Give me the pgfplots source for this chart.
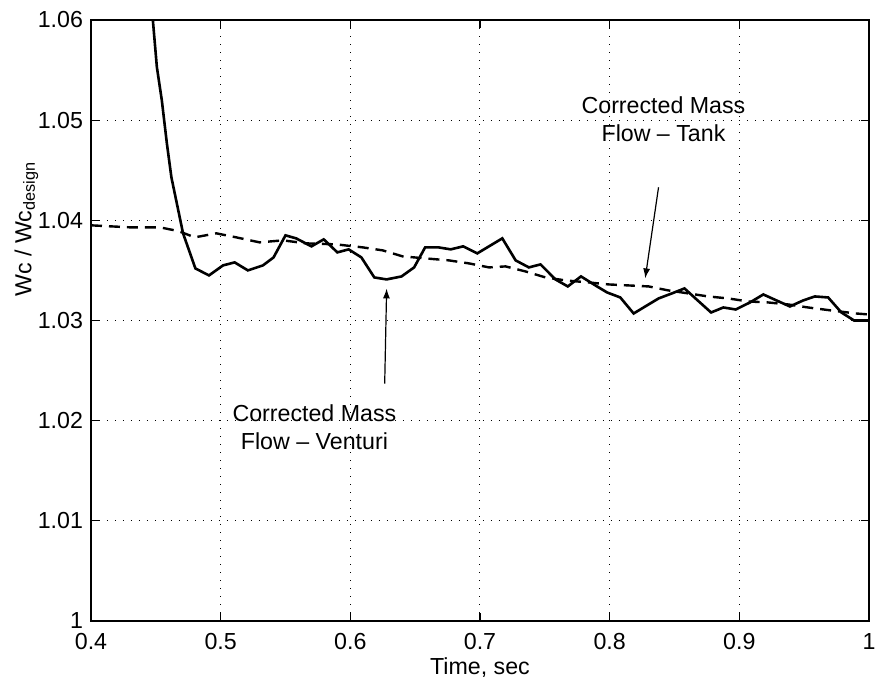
\documentclass[border=0pt]{standalone}
\usepackage{fontspec}
\setmainfont{Liberation Sans}
\usepackage{pgfplots}
\pgfplotsset{compat=1.18}
\usetikzlibrary{arrows.meta}

\pgfplotstableread{
t w
0.4477 1.0600
0.4508 1.0553
0.4546 1.0520
0.4585 1.0477
0.4620 1.0443
0.4710 1.0387
0.4805 1.0352
0.4910 1.0345
0.5018 1.0355
0.5108 1.0358
0.5210 1.0350
0.5326 1.0355
0.5408 1.0363
0.5500 1.0385
0.5582 1.0382
0.5700 1.0374
0.5795 1.0381
0.5900 1.0368
0.5987 1.0371
0.6085 1.0363
0.6185 1.0343
0.6279 1.0341
0.6395 1.0344
0.6492 1.0353
0.6577 1.0373
0.6680 1.0373
0.6774 1.0371
0.6870 1.0374
0.6979 1.0367
0.7172 1.0382
0.7275 1.0360
0.7377 1.0353
0.7467 1.0356
0.7582 1.0341
0.7677 1.0334
0.7779 1.0344
0.7890 1.0335
0.7980 1.0328
0.8082 1.0323
0.8185 1.0307
0.8287 1.0315
0.8377 1.0322
0.8479 1.0327
0.8577 1.0332
0.8679 1.0320
0.8782 1.0308
0.8877 1.0313
0.8972 1.0311
0.9082 1.0318
0.9185 1.0326
0.9287 1.0320
0.9390 1.0314
0.9492 1.0320
0.9582 1.0324
0.9685 1.0323
0.9787 1.0308
0.9885 1.0300
1.0000 1.0300
}\venturi

\pgfplotstableread{
t w
0.4000 1.0395
0.4150 1.0394
0.4300 1.0393
0.4531 1.0393
0.4646 1.0390
0.4700 1.0388
0.4800 1.0383
0.4967 1.0387
0.5120 1.0383
0.5300 1.0378
0.5480 1.0380
0.5660 1.0377
0.5890 1.0376
0.6095 1.0373
0.6250 1.0370
0.6403 1.0364
0.6580 1.0362
0.6760 1.0360
0.6915 1.0357
0.7070 1.0353
0.7197 1.0354
0.7350 1.0349
0.7505 1.0343
0.7660 1.0340
0.7838 1.0338
0.7992 1.0336
0.8146 1.0335
0.8300 1.0334
0.8454 1.0330
0.8608 1.0327
0.8760 1.0324
0.8915 1.0322
0.9070 1.0319
0.9223 1.0318
0.9377 1.0316
0.9530 1.0313
0.9710 1.0310
0.9900 1.0307
1.0000 1.0306
}\tank

\begin{document}
\begin{tikzpicture}
\begin{axis}[
  scale only axis,
  width=389pt, height=300.5pt,
  xmin=0.4, xmax=1, ymin=1, ymax=1.06,
  xtick={0.4,0.5,0.6,0.7,0.8,0.9,1},
  xticklabels={0.4,0.5,0.6,0.7,0.8,0.9,1},
  ytick={1,1.01,1.02,1.03,1.04,1.05,1.06},
  yticklabels={1,1.01,1.02,1.03,1.04,1.05,1.06},
  tick align=inside,
  major tick length=4pt,
  tick style={black, line width=0.6pt},
  axis line style={line width=0.9pt},
  grid=major,
  major grid style={black, line width=0.5pt, dash pattern=on 0.6pt off 3.4pt},
  ticklabel style={font=\fontsize{11.6}{13}\selectfont},
  xticklabel style={yshift=-2.5pt},
  yticklabel style={xshift=-0.5pt},
  label style={font=\fontsize{11.6}{13}\selectfont},
  xlabel={Time, sec},
  ylabel={Wc / Wc\textsubscript{design}},
  xlabel style={at={(axis description cs:0.5,-0.078)}, anchor=center},
  ylabel style={at={(axis description cs:-0.083,0.652)}, anchor=center},
  clip=true,
]
\addplot[black, line width=1.3pt] table[x=t, y=w] {\venturi};
\addplot[black, line width=1.2pt, dash pattern=on 5.5pt off 3.5pt] table[x=t, y=w] {\tank};

\node[align=center, font=\fontsize{11.6}{14}\selectfont] at (axis cs:0.8415,1.0501) {Corrected Mass\\Flow -- Tank};
\node[align=center, font=\fontsize{11.6}{14}\selectfont] at (axis cs:0.5723,1.0193) {Corrected Mass\\Flow -- Venturi};
\draw[-{Latex[length=5pt,width=3.5pt]}, line width=0.6pt] (axis cs:0.8377,1.0433) -- (axis cs:0.8274,1.0342);
\draw[-{Latex[length=5pt,width=3.5pt]}, line width=0.6pt] (axis cs:0.6265,1.0237) -- (axis cs:0.6280,1.0332);
\end{axis}
\pgfresetboundingbox
\path (current axis.south west) ++(-45.5pt,-31pt) rectangle ++(437.5pt,341.5pt);
\end{tikzpicture}
\end{document}
